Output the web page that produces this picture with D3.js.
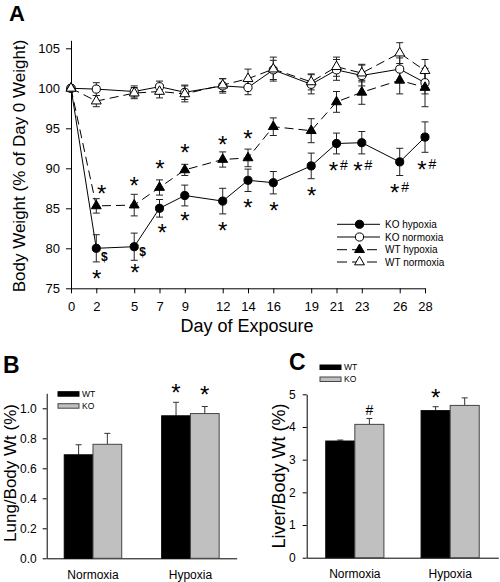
<!DOCTYPE html>
<html><head><meta charset="utf-8">
<script src="https://cdn.jsdelivr.net/npm/d3@7"></script>
<style>body{margin:0;background:#fff}svg{display:block}text{font-family:"Liberation Sans",Arial,sans-serif;fill:#000}</style>
</head><body><svg id="c" width="500" height="582"></svg>
<script>
// ---------- Panel A data ----------
const days = [0, 2, 5, 7, 9, 12, 14, 16, 19, 21, 23, 26, 28];
const koHyp     = [100, 80.0, 80.2, 85.0, 86.6, 85.9, 88.5, 88.2, 90.3, 93.1, 93.2, 90.8, 93.9];
const koHypErr  = [0, 1.7, 1.7, 1.1, 1.3, 1.6, 1.4, 1.4, 1.6, 1.3, 1.4, 1.7, 1.9];
const koNorm    = [100, 99.9, 99.6, 100.2, 99.5, 100.3, 100.1, 102.3, 100.5, 102.3, 101.6, 102.4, 100.7];
const koNormErr = [0, 0.8, 0.7, 0.7, 0.9, 0.9, 0.9, 1.2, 1.2, 1.3, 1.3, 1.4, 1.4];
const wtHyp     = [100, 85.3, 85.4, 87.6, 89.8, 91.1, 91.3, 95.2, 94.7, 98.3, 99.5, 101.0, 100.1];
const wtHypErr  = [0, 0.9, 1.35, 0.95, 0.7, 0.95, 1.1, 1.1, 1.5, 1.3, 1.5, 1.7, 2.4];
const wtNorm    = [100, 98.4, 99.4, 99.6, 99.3, 100.4, 101.2, 102.4, 100.8, 102.7, 101.9, 104.4, 102.2];
const wtNormErr = [0, 0.7, 0.7, 0.8, 1.0, 0.8, 1.2, 1.5, 1.0, 1.2, 1.1, 1.3, 1.4];
const yTicksA = [75, 80, 85, 90, 95, 100, 105];
const seriesNames = ["KO hypoxia", "KO normoxia", "WT hypoxia", "WT normoxia"];
// annotations: day, value, text
const annDay  = [2.43, 5.0, 7.04, 9.02, 12.0, 14.0,   2.03, 5.06, 7.22, 9.02, 12.0, 14.0, 16.06, 19.04, 21.12, 23.06, 25.98, 28.12,  2.63, 5.67];
const annVal  = [87.5, 88.54, 90.6, 92.6, 93.6, 94.4,  76.9, 77.6, 82.7, 84.16, 82.9, 85.8, 85.4, 87.3, 90.4, 90.4, 87.7, 90.5,  79.0, 79.6];
const annText = ["*","*","*","*","*","*",  "*","*","*","*","*","*","*","*","*#","*#","*#","*#",  "$","$"];

// ---------- Panels B & C data ----------
const conditions = ["Normoxia", "Hypoxia"];
const genotypes = ["WT", "KO"];
const lungWT = [0.69, 0.95],  lungWTErr = [0.067, 0.09];
const lungKO = [0.76, 0.965], lungKOErr = [0.073, 0.047];
const liverWT = [3.57, 4.50], liverWTErr = [0.03, 0.12];
const liverKO = [4.08, 4.66], liverKOErr = [0.18, 0.23];
const lungTicks = [0, 0.2, 0.4, 0.6, 0.8, 1.0];
const liverTicks = [0, 1, 2, 3, 4, 5];
// annotations above bars: condition index, genotype index, value, text
const lungAnnCond = [1, 1], lungAnnGeno = [0, 1], lungAnnVal = [1.144, 1.127], lungAnnText = ["*", "*"];
const liverAnnCond = [0, 1], liverAnnGeno = [1, 0], liverAnnVal = [4.52, 5.08], liverAnnText = ["#", "*"];

const svg = d3.select("#c");
const FONT = '"Liberation Sans",Arial,sans-serif';
const STAR = 24;

function drawStar(g, x, yc, txt) {
  if (txt === "*") {
    g.append("text").attr("x", x).attr("y", yc + 0.58 * STAR).attr("text-anchor", "middle")
      .style("font-size", STAR + "px").text("*");
  } else if (txt === "*#") {
    g.append("text").attr("x", x - 4.7).attr("y", yc + 0.58 * STAR).attr("text-anchor", "middle")
      .style("font-size", STAR + "px").text("*");
    g.append("text").attr("x", x + 5.8).attr("y", yc + 5).attr("text-anchor", "middle")
      .style("font-size", "14px").text("#");
  } else if (txt === "#") {
    g.append("text").attr("x", x).attr("y", yc + 5).attr("text-anchor", "middle")
      .style("font-size", "14px").text("#");
  } else if (txt === "$") {
    g.append("text").attr("x", x).attr("y", yc + 4.5).attr("text-anchor", "middle")
      .style("font-size", "12px").style("font-weight", "bold").text("$");
  }
}

// ================= Panel A =================
const xA = d3.scaleLinear().domain([0, 28]).range([71, 425]);
const yA = d3.scaleLinear().domain([75, 106]).range([288.3, 40.3]);
const gA = svg.append("g");

gA.append("g").attr("transform", `translate(0,${yA(75)})`)
  .call(d3.axisBottom(xA).tickValues(days).tickFormat(d3.format("d")).tickSize(5).tickSizeOuter(0).tickPadding(8))
  .call(g => g.selectAll("text").style("font-size", "13px").style("font-family", FONT))
  .call(g => g.selectAll("path,line").attr("stroke", "#000"));
gA.append("g").attr("transform", `translate(${xA(0)},0)`)
  .call(d3.axisLeft(yA).tickValues(yTicksA).tickSize(5).tickSizeOuter(0).tickPadding(6))
  .call(g => g.selectAll("text").style("font-size", "13px").style("font-family", FONT))
  .call(g => g.selectAll("path,line").attr("stroke", "#000"));

gA.append("text").attr("transform", `translate(25,166) rotate(-90)`).attr("text-anchor", "middle")
  .style("font-size", "17px").text("Body Weight (% of Day 0 Weight)");
gA.append("text").attr("x", 247).attr("y", 332).attr("text-anchor", "middle")
  .style("font-size", "18px").text("Day of Exposure");
gA.append("text").attr("x", 9).attr("y", 21).style("font-size", "22px").style("font-weight", "bold").text("A");

const series = [
  {name: seriesNames[0], vals: koHyp, err: koHypErr, shape: "circle", fill: "#000", dash: null},
  {name: seriesNames[1], vals: koNorm, err: koNormErr, shape: "circle", fill: "#fff", dash: null},
  {name: seriesNames[2], vals: wtHyp, err: wtHypErr, shape: "triangle", fill: "#000", dash: "9,5"},
  {name: seriesNames[3], vals: wtNorm, err: wtNormErr, shape: "triangle", fill: "#fff", dash: "9,5"}
];
const line = d3.line().x((d, i) => xA(days[i])).y(d => yA(d));
const triSym = d3.symbol().type(d3.symbolTriangle).size(42);
const cirSym = d3.symbol().type(d3.symbolCircle).size(52);

function marker(g, s, x, y) {
  g.append("path").attr("d", s.shape === "circle" ? cirSym() : triSym())
    .attr("transform", `translate(${x},${y})`).attr("fill", s.fill).attr("stroke", "#000").attr("stroke-width", 1);
}

series.forEach(s => {
  gA.append("path").attr("d", line(s.vals)).attr("fill", "none").attr("stroke", "#000")
    .attr("stroke-width", 1).attr("stroke-dasharray", s.dash);
});
series.forEach(s => {
  const eg = gA.append("g").attr("stroke", "#222").attr("stroke-width", 1);
  s.vals.forEach((v, i) => {
    if (!s.err[i]) return;
    const x = xA(days[i]), y1 = yA(v + s.err[i]), y2 = yA(v - s.err[i]);
    eg.append("line").attr("x1", x).attr("x2", x).attr("y1", y1).attr("y2", y2);
    eg.append("line").attr("x1", x - 3.5).attr("x2", x + 3.5).attr("y1", y1).attr("y2", y1);
    eg.append("line").attr("x1", x - 3.5).attr("x2", x + 3.5).attr("y1", y2).attr("y2", y2);
  });
});
series.forEach(s => {
  s.vals.forEach((v, i) => marker(gA, s, xA(days[i]), yA(v)));
});

const annG = gA.append("g");
annText.forEach((t, i) => drawStar(annG, xA(annDay[i]), yA(annVal[i]), t));

// legend A
const legY = [224.3, 237, 249.7, 262];
series.forEach((s, i) => {
  const y = legY[i];
  gA.append("line").attr("x1", 337).attr("x2", 380).attr("y1", y).attr("y2", y)
    .attr("stroke", "#000").attr("stroke-dasharray", s.dash ? "10,5" : null);
  marker(gA, s, 359.5, y);
  gA.append("text").attr("x", 385).attr("y", y + 3.6).style("font-size", "10px").text(s.name);
});

// ================= Bar panels =================
function barPanel(opt) {
  const g = svg.append("g");
  const x = d3.scaleBand().domain(conditions).range(opt.xr).paddingInner(opt.pi).paddingOuter(opt.po);
  const xs = d3.scaleBand().domain(genotypes).range([0, x.bandwidth()]);
  const y = d3.scaleLinear().domain(opt.yd).range(opt.yr);
  g.append("g").attr("transform", `translate(0,${opt.yr[0]})`)
    .call(d3.axisBottom(x).tickSize(0).tickPadding(12))
    .call(a => a.selectAll("text").style("font-size", "12px").style("font-family", FONT))
    .call(a => a.selectAll("path").attr("stroke", "#000"));
  g.append("g").attr("transform", `translate(${opt.xr[0]},0)`)
    .call(d3.axisLeft(y).tickValues(opt.ticks).tickFormat(opt.fmt).tickSize(4).tickSizeOuter(0).tickPadding(opt.tp))
    .call(a => a.selectAll("text").style("font-size", "12px").style("font-family", FONT))
    .call(a => a.selectAll("path,line").attr("stroke", "#000"));
  const data = [
    {geno: "WT", vals: opt.wt, err: opt.wtErr, fill: "#000", stroke: "#000"},
    {geno: "KO", vals: opt.ko, err: opt.koErr, fill: "#c0c0c0", stroke: "#444"}
  ];
  data.forEach(d => {
    d.vals.forEach((v, i) => {
      const bx = x(conditions[i]) + xs(d.geno);
      const cx = bx + xs.bandwidth() / 2;
      const ty = y(v + d.err[i]);
      g.append("line").attr("x1", cx).attr("x2", cx).attr("y1", y(v)).attr("y2", ty).attr("stroke", "#333");
      g.append("line").attr("x1", cx - 3).attr("x2", cx + 3).attr("y1", ty).attr("y2", ty).attr("stroke", "#333");
      g.append("rect").attr("x", bx).attr("y", y(v)).attr("width", xs.bandwidth()).attr("height", y(0) - y(v))
        .attr("fill", d.fill).attr("stroke", d.stroke).attr("stroke-width", 1);
    });
  });
  opt.annT.forEach((t, i) => {
    const cx = x(conditions[opt.annC[i]]) + xs(genotypes[opt.annG[i]]) + xs.bandwidth() / 2;
    drawStar(g, cx, y(opt.annV[i]), t);
  });
  // legend
  [["WT", "#000", "#000"], ["KO", "#c0c0c0", "#444"]].forEach((l, i) => {
    const ly = opt.legY + i * 12;
    g.append("rect").attr("x", opt.legX).attr("y", ly).attr("width", 21).attr("height", 4.5)
      .attr("fill", l[1]).attr("stroke", l[2]);
    g.append("text").attr("x", opt.legX + 24).attr("y", ly + 5).style("font-size", "8.5px").text(l[0]);
  });
  g.append("text").attr("transform", `translate(${opt.titleX},${opt.titleY}) rotate(-90)`).attr("text-anchor", "middle")
    .style("font-size", opt.titleSize + "px").text(opt.title);
  g.append("text").attr("x", opt.letX).attr("y", opt.letY).style("font-size", "23px").style("font-weight", "bold").text(opt.letter);
}

barPanel({
  xr: [46.7, 236.7], pi: 0.41, po: 0.18, yd: [0, 1.1], yr: [558.3, 393.3], ticks: lungTicks, fmt: d3.format(".1f"), tp: 6,
  wt: lungWT, wtErr: lungWTErr, ko: lungKO, koErr: lungKOErr,
  annC: lungAnnCond, annG: lungAnnGeno, annV: lungAnnVal, annT: lungAnnText,
  legX: 58, legY: 391.7, title: "Lung/Body Wt (%)", titleSize: 17, titleX: 15.5, titleY: 473, letter: "B", letX: 3, letY: 373
});
barPanel({
  xr: [306.7, 498.3], pi: 0.39, po: 0.2, yd: [0, 5], yr: [557.7, 394.3], ticks: liverTicks, fmt: d3.format("d"), tp: 7,
  wt: liverWT, wtErr: liverWTErr, ko: liverKO, koErr: liverKOErr,
  annC: liverAnnCond, annG: liverAnnGeno, annV: liverAnnVal, annT: liverAnnText,
  legX: 320, legY: 365, title: "Liver/Body Wt (%)", titleSize: 18, titleX: 285, titleY: 476, letter: "C", letX: 289, letY: 370
});
</script>
</body></html>
